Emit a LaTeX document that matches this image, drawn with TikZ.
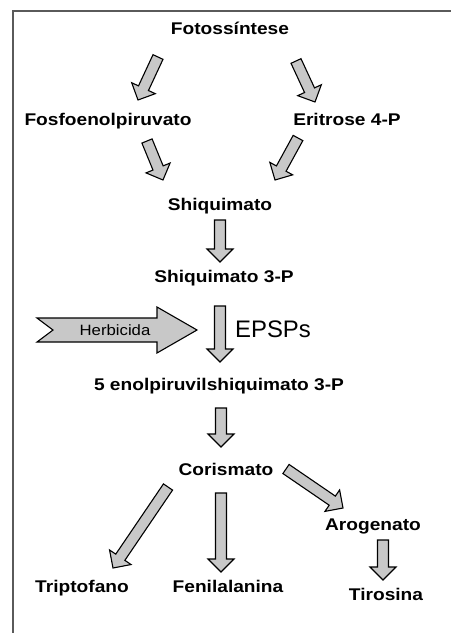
\documentclass[tikz,border=0pt]{standalone}
\usepackage{fontspec}
\usepackage{graphicx}
\setmainfont{Liberation Sans}
\usetikzlibrary{calc}
\newcommand\hstretch[1]{\scalebox{1.13}[1]{#1}}
\definecolor{arrfill}{RGB}{200,200,200}
\definecolor{framecol}{RGB}{90,90,90}
\tikzset{
  lbl/.style={anchor=base, inner sep=0pt, font=\fontsize{17}{20}\selectfont\bfseries},
  blk/.style={draw=black, line width=1.1bp, fill=arrfill, line join=miter},
}
% name, from, to
\newcommand\blockarrow[3]{%
  \coordinate (#1h) at ($(#3)!13bp!(#2)$);
  \draw[blk] ($(#2)!5.5bp!90:(#3)$) -- ($(#1h)!5.5bp!-90:(#2)$) -- ($(#1h)!13bp!-90:(#2)$) -- (#3)
    -- ($(#1h)!13bp!90:(#2)$) -- ($(#1h)!5.5bp!90:(#2)$) -- ($(#2)!5.5bp!-90:(#3)$) -- cycle;
}
\begin{document}
\begin{tikzpicture}[x=1bp,y=-1bp]
\useasboundingbox (0,0) rectangle (451,633);
\fill[white] (0,0) rectangle (451,633);
\draw[framecol, line width=1.6bp] (451,11) -- (13,11) -- (13,633);

% labels
\node[lbl] (foto)   at (230,35)  {\hstretch{Fotossíntese}};
\node[lbl] (fosfo)  at (108,126) {\hstretch{Fosfoenolpiruvato}};
\node[lbl] (eri)    at (347,126) {\hstretch{Eritrose 4-P}};
\node[lbl] (shiq)   at (220,210) {\hstretch{Shiquimato}};
\node[lbl] (shiq3p) at (224,282) {\hstretch{Shiquimato 3-P}};
\node[lbl] (enol)   at (219,390) {\hstretch{5 enolpiruvilshiquimato 3-P}};
\node[lbl] (cor)    at (226,475) {\hstretch{Corismato}};
\node[lbl] (arog)   at (373,530) {\hstretch{Arogenato}};
\node[lbl] (trip)   at (82,592)  {\hstretch{Triptofano}};
\node[lbl] (fen)    at (228,592) {\hstretch{Fenilalanina}};
\node[lbl] (tir)    at (386,600) {\hstretch{Tirosina}};
\node[anchor=base, inner sep=0pt, font=\fontsize{24}{28}\selectfont] (epsps) at (273,337) {EPSPs};

% herbicide arrow
\draw[blk] (37,318) -- (157,318) -- (157,307) -- (197,330) -- (157,353) -- (157,342) -- (37,342) -- (53,330) -- cycle;
\node[anchor=base, inner sep=0pt, font=\fontsize{15}{18}\selectfont, text=black] (herb) at (115,335) {\scalebox{1.12}[1]{Herbicida}};

% connector end points
\coordinate (a1s) at (158,57);  \coordinate (a1e) at (138,100);
\coordinate (a2s) at (296,61);  \coordinate (a2e) at (315,102);
\coordinate (a3s) at (147,141); \coordinate (a3e) at (163,180);
\coordinate (a4s) at (298,138); \coordinate (a4e) at (275,180);
\coordinate (a5s) at (220,220); \coordinate (a5e) at (220,262);
\coordinate (a6s) at (220,306); \coordinate (a6e) at (220,362);
\coordinate (a7s) at (221,408); \coordinate (a7e) at (221,447);
\coordinate (a8s) at (168,487); \coordinate (a8e) at (113,568);
\coordinate (a9s) at (221,493); \coordinate (a9e) at (221,572);
\coordinate (a10s) at (286,469); \coordinate (a10e) at (343,508);
\coordinate (a11s) at (383,540); \coordinate (a11e) at (383,580);

\blockarrow{a1}{a1s}{a1e}
\blockarrow{a2}{a2s}{a2e}
\blockarrow{a3}{a3s}{a3e}
\blockarrow{a4}{a4s}{a4e}
\blockarrow{a5}{a5s}{a5e}
\blockarrow{a6}{a6s}{a6e}
\blockarrow{a7}{a7s}{a7e}
\blockarrow{a8}{a8s}{a8e}
\blockarrow{a9}{a9s}{a9e}
\blockarrow{a10}{a10s}{a10e}
\blockarrow{a11}{a11s}{a11e}
\end{tikzpicture}
\end{document}
